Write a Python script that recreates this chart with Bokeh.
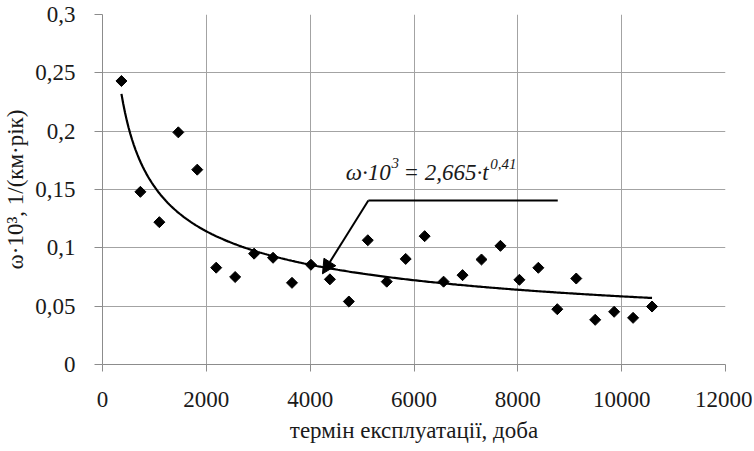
import numpy as np
from bokeh.plotting import figure
from bokeh.models import Range1d, FixedTicker, Label, Arrow, NormalHead
from bokeh.embed import file_html
from bokeh.resources import INLINE

# ---- data ----
days = [365, 730, 1095, 1460, 1825, 2190, 2555, 2920, 3285, 3650,
        4015, 4380, 4745, 5110, 5475, 5840, 6205, 6570, 6935, 7300,
        7665, 8030, 8395, 8760, 9125, 9490, 9855, 10220, 10585]
omega = [0.243, 0.148, 0.122, 0.199, 0.167, 0.083, 0.075, 0.095, 0.0915, 0.070,
         0.0855, 0.073, 0.054, 0.1065, 0.071, 0.0905, 0.110, 0.071, 0.0766, 0.090,
         0.1017, 0.0726, 0.0829, 0.0474, 0.0737, 0.0383, 0.0452, 0.040, 0.0497]

x_tick_values = [0, 2000, 4000, 6000, 8000, 10000, 12000]
x_tick_labels = ["0", "2000", "4000", "6000", "8000", "10000", "12000"]
y_tick_values = [0, 0.05, 0.1, 0.15, 0.2, 0.25, 0.3]
y_tick_labels = ["0", "0,05", "0,1", "0,15", "0,2", "0,25", "0,3"]

x_title = "термін експлуатації, доба"
y_title = "ω·10³, 1/(км·рік)"

# power trendline (least squares in log-log space, as a spreadsheet trendline does)
lx = np.log(np.array(days, dtype=float))
ly = np.log(np.array(omega, dtype=float))
b, ln_a = np.polyfit(lx, ly, 1)
t_fit = np.linspace(min(days), max(days), 300)
w_fit = np.exp(ln_a) * t_fit ** b

FONT = "Liberation Serif"
GRID = "#a3a3a3"
AXIS = "#8c8c8c"
TXT = "#1a1a1a"

p = figure(width=752, height=449, output_backend="svg", toolbar_location=None,
           x_range=Range1d(0, 12000), y_range=Range1d(0, 0.3),
           min_border_left=100, min_border_right=27, min_border_top=14,
           min_border_bottom=85)
p.outline_line_color = None
p.background_fill_color = "white"
p.border_fill_color = "white"

p.xaxis.ticker = FixedTicker(ticks=x_tick_values)
p.yaxis.ticker = FixedTicker(ticks=y_tick_values)
p.xaxis.major_label_overrides = dict(zip(x_tick_values, x_tick_labels))
p.yaxis.major_label_overrides = dict(zip(y_tick_values, y_tick_labels))

for ax in (p.xaxis, p.yaxis):
    ax.axis_line_color = AXIS
    ax.major_tick_line_color = AXIS
    ax.minor_tick_line_color = None
    ax.major_tick_in = 0
    ax.major_label_text_font = FONT
    ax.major_label_text_font_size = "23px"
    ax.major_label_text_color = TXT
    ax.axis_label_text_font = FONT
    ax.axis_label_text_font_size = "23px"
    ax.axis_label_text_font_style = "normal"
    ax.axis_label_text_color = TXT

p.xaxis.major_tick_out = 7
p.yaxis.major_tick_out = 8
p.xaxis.major_label_standoff = 20
p.yaxis.major_label_standoff = 19
p.xaxis.axis_label = x_title
p.yaxis.axis_label = y_title
p.xaxis.axis_label_standoff = 8
p.yaxis.axis_label_standoff = 4

p.xgrid.grid_line_color = GRID
p.ygrid.grid_line_color = GRID
p.xgrid.grid_line_width = 1
p.ygrid.grid_line_width = 1

# trendline
p.line(t_fit, w_fit, line_color="black", line_width=2.2)

# data points (diamonds)
p.scatter(days, omega, marker="square", size=7.8, angle=np.pi / 4,
          fill_color="black", line_color="black")

# callout line with arrow
p.line([8769, 5121], [0.1406, 0.1406], line_color="black", line_width=2)
p.add_layout(Arrow(x_start=5121, y_start=0.1406, x_end=4237, y_end=0.0777,
                   line_color="black", line_width=2,
                   end=NormalHead(size=14, fill_color="black", line_color="black")))

# equation text
lab_kw = dict(text_font=FONT, text_font_style="italic", text_color=TXT,
              text_baseline="alphabetic", text_align="left")
p.add_layout(Label(x=4685, y=0.1648, text="ω·10", text_font_size="23px", **lab_kw))
p.add_layout(Label(x=5568, y=0.1729, text="3", text_font_size="15px", **lab_kw))
p.add_layout(Label(x=5798, y=0.1648, text="= 2,665·t", text_font_size="23px", **lab_kw))
p.add_layout(Label(x=7469, y=0.1720, text="0,41", text_font_size="15px", **lab_kw))

open("out.html", "w").write(file_html(p, INLINE))
